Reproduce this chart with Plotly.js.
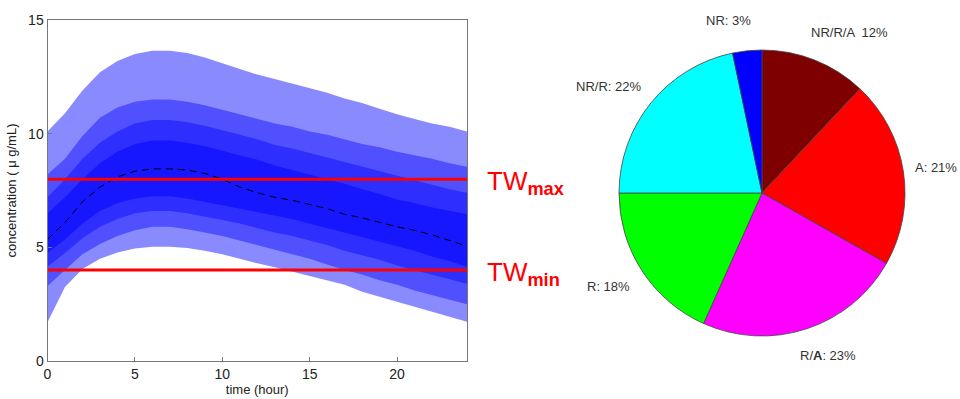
<!DOCTYPE html>
<html>
<head>
<meta charset="utf-8">
<script src="https://cdn.plot.ly/plotly-3.0.1.min.js"></script>
<style>
html,body{margin:0;padding:0;background:#fff;}
#chart{width:960px;height:399px;}
</style>
</head>
<body>
<div id="chart"></div>
<script>
// ---- Data ----
const timeHours = [0,1,2,3,4,5,6,7,8,9,10,11,12,13,14,15,16,17,18,19,20,21,22,23,24];
const outerHi  = [10.1,10.9,11.9,12.7,13.2,13.5,13.65,13.65,13.55,13.35,13.1,12.85,12.6,12.4,12.2,12.0,11.8,11.55,11.35,11.1,10.85,10.65,10.45,10.3,10.1];
const band2Hi  = [8.2,8.9,9.9,10.7,11.15,11.4,11.5,11.5,11.4,11.25,11.05,10.85,10.65,10.45,10.3,10.1,9.95,9.75,9.55,9.4,9.2,9.05,8.9,8.7,8.55];
const band3Hi  = [7.2,8.0,8.9,9.6,10.1,10.45,10.6,10.6,10.5,10.35,10.15,9.95,9.75,9.5,9.35,9.15,8.95,8.75,8.55,8.35,8.15,7.95,7.75,7.55,7.4];
const innerHi  = [6.5,7.2,8.0,8.7,9.2,9.55,9.7,9.7,9.6,9.45,9.25,9.05,8.85,8.6,8.4,8.2,8.0,7.8,7.55,7.35,7.1,6.95,6.75,6.6,6.45];
const medianConc = [5.35,6.1,7.0,7.65,8.1,8.35,8.45,8.45,8.4,8.25,8.0,7.65,7.4,7.2,7.07,6.9,6.7,6.45,6.3,6.1,5.9,5.75,5.55,5.3,5.05];
const innerLo  = [4.75,5.35,6.05,6.6,6.95,7.15,7.25,7.25,7.15,7.0,6.85,6.7,6.55,6.4,6.25,6.05,5.85,5.65,5.45,5.25,5.05,4.85,4.6,4.4,4.15];
const band3Lo  = [4.15,4.75,5.4,5.9,6.25,6.5,6.6,6.6,6.5,6.35,6.2,6.05,5.85,5.65,5.5,5.3,5.1,4.85,4.65,4.45,4.2,4.0,3.8,3.6,3.4];
const band2Lo  = [3.3,4.0,4.7,5.15,5.5,5.75,5.9,5.9,5.8,5.65,5.5,5.3,5.1,4.9,4.7,4.5,4.25,4.0,3.8,3.55,3.35,3.1,2.9,2.7,2.5];
const outerLo  = [1.7,3.25,4.05,4.5,4.77,4.95,5.03,5.03,4.97,4.85,4.7,4.5,4.3,4.12,3.92,3.75,3.55,3.35,3.05,2.85,2.62,2.42,2.2,1.95,1.73];

const twMax = 8;
const twMin = 4;
const twLabels = ['TW<sub><b>max</b></sub>', 'TW<sub><b>min</b></sub>'];

const xTicks = [0,5,10,15,20];
const yTicks = [0,5,10,15];

const pieLabels = ['NR/R/A','A','R/A','R','NR/R','NR'];
const pieValues = [12.0,21.2,23.5,18.3,21.7,3.3];
const pieTexts  = ['NR/R/A  12%','A: 21%','R/<b>A</b>: 23%','R: 18%','NR/R: 22%','NR: 3%'];
const pieColors = ['#7f0000','#ff0000','#ff00ff','#00ff00','#00ffff','#0000ff'];

// ---- Build traces ----
function band(hi, lo, color){
  const x = timeHours.concat(timeHours.slice().reverse());
  const y = hi.concat(lo.slice().reverse());
  return {x:x, y:y, type:'scatter', mode:'lines', fill:'toself', fillcolor:color,
          line:{width:0, color:color}, hoverinfo:'skip', showlegend:false, xaxis:'x', yaxis:'y'};
}
const tEnd = timeHours[timeHours.length-1];
const traces = [
  band(outerHi, outerLo, '#8a8aff'),
  band(band2Hi, band2Lo, '#5050ff'),
  band(band3Hi, band3Lo, '#2e2eff'),
  band(innerHi, innerLo, '#1616ff'),
  {x:timeHours, y:medianConc, type:'scatter', mode:'lines', line:{color:'#000', width:1, dash:'7px,5px'}, showlegend:false},
  {x:[timeHours[0], tEnd], y:[twMax, twMax], type:'scatter', mode:'lines', line:{color:'#ff0000', width:3}, showlegend:false},
  {x:[timeHours[0], tEnd], y:[twMin, twMin], type:'scatter', mode:'lines', line:{color:'#ff0000', width:3}, showlegend:false},
  {type:'pie', labels:pieLabels, values:pieValues, sort:false, direction:'clockwise', rotation:0,
   marker:{colors:pieColors, line:{color:'#444', width:0.8}}, textinfo:'none', hoverinfo:'label+percent',
   domain:{x:[619/960, 905/960], y:[1-336/399, 1-50/399]}, showlegend:false}
];

const font = 'Liberation Sans, Arial, sans-serif';
const pieLabelPos = [[849,33],[936,167],[828,355],[608,286],[608,86],[728,21]];
const annotations = [];
pieTexts.forEach((t,i)=>{
  annotations.push({text:t, xref:'paper', yref:'paper', x:pieLabelPos[i][0]/960, y:1-pieLabelPos[i][1]/399,
    xanchor:'center', yanchor:'middle', showarrow:false, font:{family:font, size:13, color:'#333'}});
});
annotations.push({text:twLabels[0], xref:'paper', yref:'y', x:485/960, y:twMax, xanchor:'left', yanchor:'middle', yshift:-3,
  showarrow:false, font:{family:font, size:26, color:'#ff0000'}});
annotations.push({text:twLabels[1], xref:'paper', yref:'y', x:485/960, y:twMin, xanchor:'left', yanchor:'middle', yshift:-3,
  showarrow:false, font:{family:font, size:26, color:'#ff0000'}});

const layout = {
  width:960, height:399,
  margin:{l:0, r:0, t:0, b:0},
  paper_bgcolor:'#fff', plot_bgcolor:'#fff',
  showlegend:false,
  font:{family:font, size:13, color:'#222'},
  xaxis:{domain:[47.5/960, 467/960], range:[0,24], tickvals:xTicks, ticks:'inside', ticklen:4, tickcolor:'#777',
    showline:true, linecolor:'#777', linewidth:1, mirror:true, showgrid:false, zeroline:false,
    tickfont:{family:font, size:14, color:'#222'}, title:{text:'time (hour)', font:{family:font, size:13, color:'#222'}, standoff:4}},
  yaxis:{domain:[1-361/399, 1-20/399], range:[0,15], tickvals:yTicks, ticks:'inside', ticklen:4, tickcolor:'#777',
    showline:true, linecolor:'#777', linewidth:1, mirror:true, showgrid:false, zeroline:false,
    tickfont:{family:font, size:14, color:'#222'}, title:{text:'concentration ( μ g/mL)', font:{family:font, size:13, color:'#222'}, standoff:8}},
  annotations:annotations
};

Plotly.newPlot('chart', traces, layout, {staticPlot:true, displayModeBar:false});
</script>
</body>
</html>
